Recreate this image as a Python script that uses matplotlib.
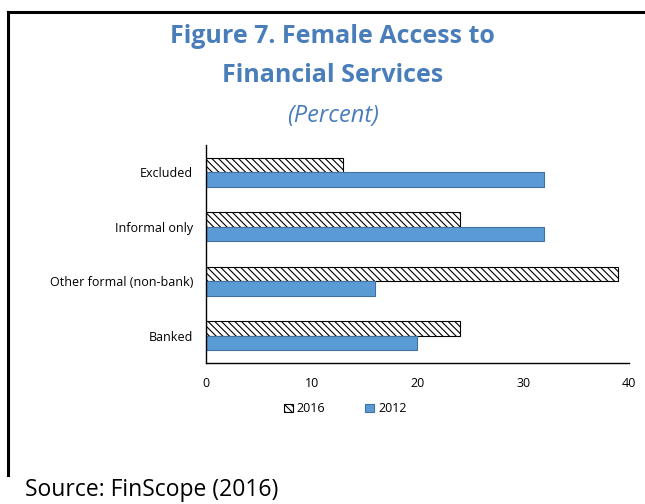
import numpy as np
import matplotlib.pyplot as plt
from matplotlib.lines import Line2D

categories = ['Banked', 'Other formal (non-bank)', 'Informal only', 'Excluded']
vals_2016 = [24, 39, 24, 13]
vals_2012 = [20, 16, 32, 32]

plt.rcParams['font.family'] = ['Open Sans', 'DejaVu Sans']
plt.rcParams['hatch.linewidth'] = 0.8

fig = plt.figure(figsize=(6.45, 5.04), dpi=100)
ax = fig.add_axes([0.319, 0.280, 0.656, 0.432])

y = np.arange(len(categories))
h = 0.27
ax.barh(y + h / 2, vals_2016, height=h, color='white', edgecolor='black',
        linewidth=0.8, hatch='\\\\\\\\\\', label='2016')
ax.barh(y - h / 2, vals_2012, height=h, color='#5B9BD5', edgecolor='#41719C',
        linewidth=0.8, label='2012')

ax.set_xlim(0, 40)
ax.set_ylim(-0.5, len(categories) - 0.5)
ax.set_xticks([0, 10, 20, 30, 40])
ax.set_yticks(y)
ax.set_yticklabels(categories)
ax.tick_params(axis='both', length=0, labelsize=9)
ax.tick_params(axis='y', pad=9)
ax.tick_params(axis='x', pad=10)
for s in ['top', 'right']:
    ax.spines[s].set_visible(False)
for s in ['left', 'bottom']:
    ax.spines[s].set_color('black')
    ax.spines[s].set_linewidth(1.0)

ax.legend(loc='upper center', bbox_to_anchor=(0.33, -0.13), ncol=2, frameon=False,
          fontsize=9, handlelength=0.7, handleheight=0.7, handletextpad=0.3,
          columnspacing=3.2)

title_color = '#4A7EBB'
fig.text(0.516, 0.928, 'Figure 7. Female Access to', ha='center', va='center',
         fontsize=18, fontweight='bold', color=title_color)
fig.text(0.516, 0.851, 'Financial Services', ha='center', va='center',
         fontsize=18, fontweight='bold', color=title_color)
fig.text(0.516, 0.770, '(Percent)', ha='center', va='center',
         fontsize=17, fontstyle='italic', color=title_color)
fig.text(0.038, 0.028, 'Source: FinScope (2016)', ha='left', va='center',
         fontsize=16.5, color='black')

# frame lines on top and left
fig.add_artist(Line2D([0.013, 1.0], [0.976, 0.976], color='black', linewidth=2.2,
                      transform=fig.transFigure))
fig.add_artist(Line2D([0.013, 0.013], [0.976, 0.058], color='black', linewidth=2.2,
                      transform=fig.transFigure))

fig.savefig('out.png', dpi=100)
